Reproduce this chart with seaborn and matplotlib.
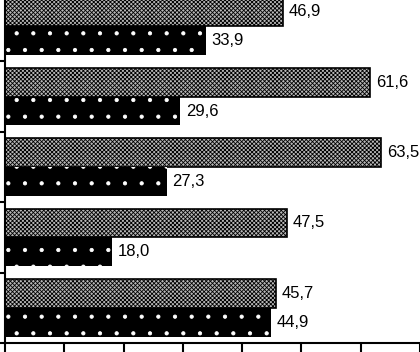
import numpy as np
import pandas as pd
import matplotlib
matplotlib.use("Agg")
import matplotlib.pyplot as plt
import seaborn as sns

# ─── Data ─────────────────────────────────────────────
categories = ["1", "2", "3", "4", "5"]
series_names = ["Série 1", "Série 2"]
series_1 = [46.9, 61.6, 63.5, 47.5, 45.7]
series_2 = [33.9, 29.6, 27.3, 18.0, 44.9]

df = pd.DataFrame({
    "category": categories * 2,
    "series": [series_names[0]] * len(categories) + [series_names[1]] * len(categories),
    "value": series_1 + series_2,
})

sns.set_style("white")
plt.rcParams["font.family"] = ["Liberation Sans", "DejaVu Sans"]
plt.rcParams["hatch.linewidth"] = 0.6

fig = plt.figure(figsize=(4.2, 3.52), dpi=100)
# axes extends slightly above the image (reference is cropped at the top)
ax = fig.add_axes([5 / 420, 9 / 352, 415 / 420, 352 / 352])

sns.barplot(data=df, y="category", x="value", hue="series", orient="h",
            order=categories, hue_order=series_names, width=0.82,
            palette=["#b0b0b0", "black"], ax=ax, legend=False)

# style patterns: grey crosshatch / black with white dots
for bar, s in zip(ax.patches, ["s1"] * 5 + ["s2"] * 5):
    if s == "s1":
        bar.set_facecolor("#b8b8b8")
        bar.set_edgecolor("black")
        bar.set_hatch("xxxxxxxx")
        bar.set_linewidth(1.2)
    else:
        bar.set_facecolor("black")
        bar.set_edgecolor("white")
        bar.set_hatch(".")
        bar.set_linewidth(0)

for cont in ax.containers:
    ax.bar_label(cont, labels=[f"{v:.1f}".replace(".", ",") for v in cont.datavalues],
                 padding=4, fontsize=12, color="black")

ax.set_xlim(0, 70)
ax.set_ylim(4.5, -0.5)
ax.set_xticks(np.arange(0, 71, 10))
ax.set_xticklabels([])
ax.set_yticks(np.arange(-0.5, 5.0, 1.0))
ax.set_yticklabels([])
ax.set_xlabel("")
ax.set_ylabel("")
for side in ["top", "right"]:
    ax.spines[side].set_visible(False)
for side in ["left", "bottom"]:
    ax.spines[side].set_color("black")
    ax.spines[side].set_linewidth(1.5)
ax.tick_params(axis="x", direction="out", length=7, width=1.5, color="black", bottom=True)
ax.tick_params(axis="y", direction="out", length=4, width=1.5, color="black", left=True)

fig.savefig("out.png", dpi=100, facecolor="white")
